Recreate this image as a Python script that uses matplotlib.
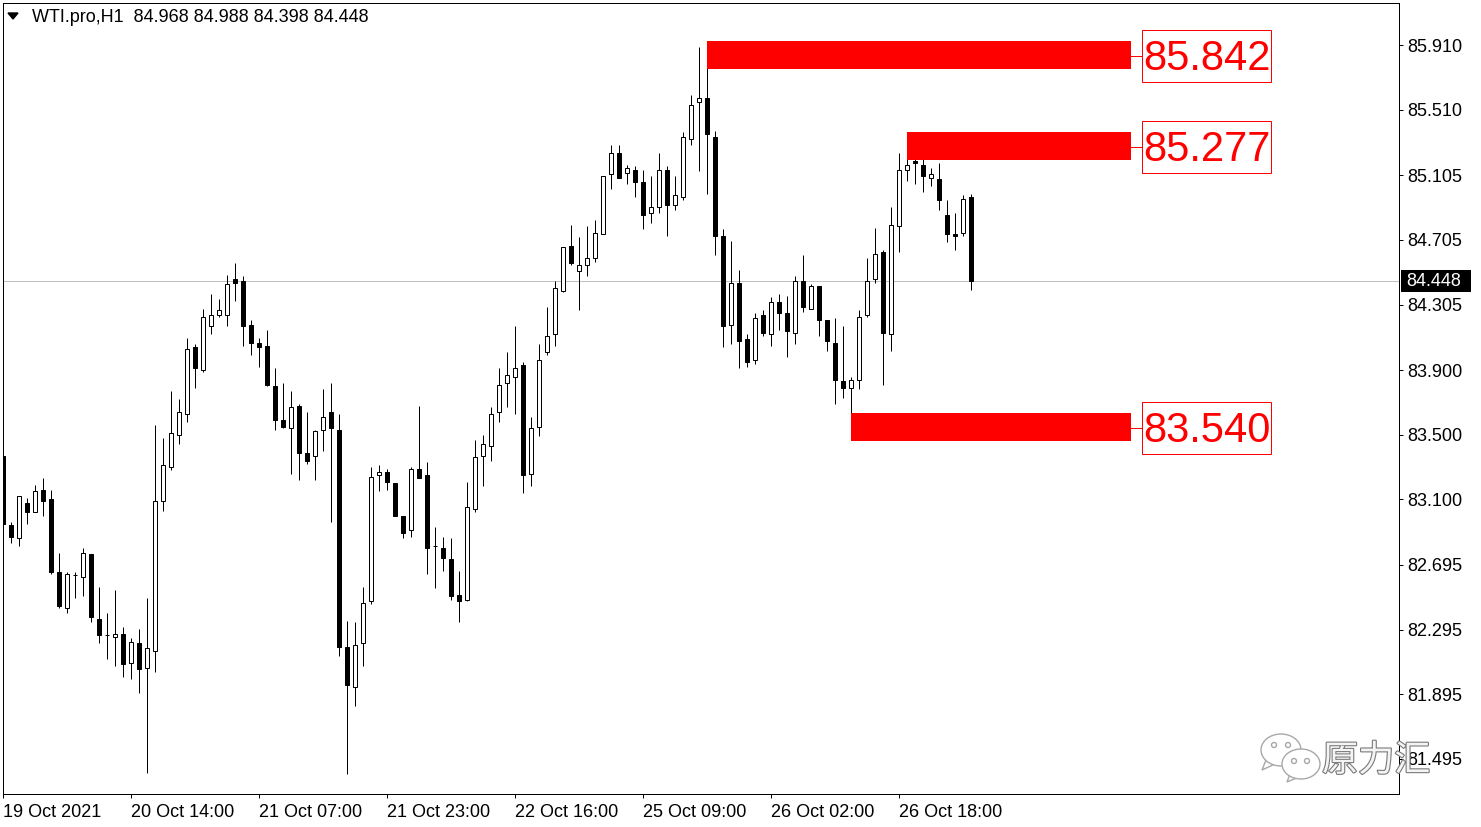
import matplotlib
matplotlib.use('Agg')
import matplotlib.pyplot as plt
from matplotlib.patches import Rectangle, Ellipse, Circle, Polygon
import matplotlib.patheffects as pe

plt.rcParams['font.family'] = ['Liberation Sans', 'DejaVu Sans']

# WTI.pro H1 candles
opens = [83.37, 82.94, 82.86, 83.08, 83.02, 83.16, 83.10, 82.65, 82.43, 82.63,
         82.62, 82.76, 82.36, 82.26, 82.25, 82.27, 82.09, 82.21, 82.06, 82.16,
         83.09, 83.30, 83.50, 83.63, 84.04, 83.90, 84.17, 84.24, 84.24, 84.46,
         84.45, 84.18, 84.07, 84.05, 83.80, 83.59, 83.54, 83.68, 83.39, 83.37,
         83.53, 83.64, 83.53, 82.19, 81.94, 82.21, 82.47, 83.25, 83.27, 83.20,
         83.00, 82.91, 83.29, 83.25, 82.81, 82.80, 82.73, 82.51, 82.48, 83.04,
         83.37, 83.43, 83.64, 83.82, 83.86, 83.93, 83.26, 83.55, 84.01, 84.12,
         84.39, 84.67, 84.51, 84.55, 84.59, 84.74, 85.11, 85.24, 85.12, 85.14,
         85.06, 84.87, 84.91, 85.14, 84.92, 84.97, 85.33, 85.56, 85.58, 85.34,
         84.73, 84.18, 84.44, 84.09, 83.96, 84.24, 84.12, 84.32, 84.25, 84.13,
         84.45, 84.28, 84.42, 84.21, 84.07, 83.83, 83.79, 83.84, 84.24, 84.46,
         84.63, 84.12, 84.79, 85.14, 85.19, 85.17, 85.09, 85.08, 84.86, 84.74,
         84.75, 84.968]
highs = [83.39, 82.96, 83.12, 83.11, 83.19, 83.23, 83.16, 82.77, 82.65, 82.65,
         82.80, 82.76, 82.56, 82.40, 82.54, 82.31, 82.24, 82.30, 82.49, 83.56,
         83.48, 83.77, 83.72, 84.10, 84.06, 84.28, 84.37, 84.34, 84.49, 84.56,
         84.48, 84.21, 84.10, 84.15, 83.91, 83.82, 83.77, 83.69, 83.64, 83.53,
         83.78, 83.82, 83.63, 82.35, 82.34, 82.56, 83.30, 83.31, 83.29, 83.20,
         83.00, 83.30, 83.68, 83.33, 82.93, 82.87, 82.86, 82.66, 83.21, 83.47,
         83.50, 83.67, 83.91, 84.01, 84.17, 83.95, 83.61, 84.06, 84.29, 84.45,
         84.66, 84.80, 84.72, 84.79, 84.83, 85.10, 85.29, 85.29, 85.17, 85.16,
         85.14, 85.10, 85.24, 85.16, 85.10, 85.37, 85.60, 85.90, 85.93, 85.38,
         84.77, 84.70, 84.52, 84.12, 84.25, 84.27, 84.35, 84.37, 84.36, 84.48,
         84.61, 84.43, 84.42, 84.21, 84.22, 84.17, 83.86, 84.27, 84.59, 84.78,
         84.64, 84.91, 85.24, 85.24, 85.36, 85.26, 85.15, 85.18, 84.95, 84.87,
         84.98, 84.988]
lows = [82.85, 82.83, 82.81, 82.95, 83.02, 83.00, 82.64, 82.43, 82.40, 82.49,
        82.50, 82.34, 82.21, 82.11, 82.07, 82.00, 81.99, 81.90, 81.41, 82.03,
        83.03, 83.28, 83.44, 83.58, 83.79, 83.89, 84.12, 84.23, 84.17, 84.33,
        84.05, 83.99, 83.92, 83.80, 83.53, 83.54, 83.26, 83.22, 83.32, 83.22,
        83.40, 82.96, 82.13, 81.40, 81.82, 82.07, 82.45, 83.15, 83.16, 83.00,
        82.86, 82.87, 83.23, 82.64, 82.55, 82.66, 82.48, 82.34, 82.47, 83.02,
        83.18, 83.34, 83.58, 83.67, 83.63, 83.14, 83.18, 83.49, 83.99, 84.05,
        84.38, 84.55, 84.27, 84.48, 84.57, 84.74, 85.02, 85.09, 85.05, 84.97,
        84.77, 84.81, 84.87, 84.73, 84.89, 84.95, 85.29, 85.13, 84.99, 84.61,
        84.04, 84.06, 83.91, 83.92, 83.94, 84.11, 84.05, 84.15, 83.98, 84.06,
        84.26, 84.28, 84.11, 84.02, 83.69, 83.73, 83.63, 83.78, 84.23, 84.44,
        83.81, 84.02, 84.63, 85.07, 85.05, 85.00, 85.04, 84.89, 84.69, 84.64,
        84.73, 84.398]
closes = [82.95, 82.87, 83.12, 83.02, 83.15, 83.09, 82.65, 82.44, 82.64, 82.63,
          82.77, 82.37, 82.26, 82.26, 82.27, 82.08, 82.22, 82.05, 82.18, 83.09,
          83.31, 83.51, 83.64, 84.03, 83.91, 84.23, 84.24, 84.27, 84.43, 84.44,
          84.17, 84.07, 84.04, 83.81, 83.59, 83.55, 83.67, 83.39, 83.34, 83.52,
          83.61, 83.54, 82.19, 81.95, 82.20, 82.46, 83.24, 83.27, 83.21, 83.00,
          82.89, 83.29, 83.23, 82.80, 82.81, 82.74, 82.50, 82.47, 83.05, 83.36,
          83.44, 83.63, 83.81, 83.87, 83.91, 83.25, 83.54, 83.96, 84.11, 84.41,
          84.66, 84.56, 84.55, 84.59, 84.75, 85.10, 85.24, 85.09, 85.15, 85.06,
          84.86, 84.91, 85.14, 84.92, 84.98, 85.34, 85.54, 85.58, 85.36, 84.73,
          84.17, 84.44, 84.08, 83.95, 84.22, 84.13, 84.32, 84.25, 84.14, 84.45,
          84.29, 84.42, 84.21, 84.08, 83.84, 83.79, 83.84, 84.23, 84.45, 84.62,
          84.13, 84.80, 85.14, 85.17, 85.18, 85.10, 85.11, 84.95, 84.74, 84.73,
          84.96, 84.448]

time_labels = ['19 Oct 2021', '20 Oct 14:00', '21 Oct 07:00', '21 Oct 23:00',
               '22 Oct 16:00', '25 Oct 09:00', '26 Oct 02:00', '26 Oct 18:00']
time_label_bars = [0, 16, 32, 48, 64, 80, 96, 112]
price_ticks = [85.910, 85.510, 85.105, 84.705, 84.305, 83.900,
               83.500, 83.100, 82.695, 82.295, 81.895, 81.495]

levels = [85.842, 85.277, 83.540]
level_start_bars = [88, 113, 106]
level_end_bar = 141

LW = 0.72
fig = plt.figure(figsize=(14.81, 8.27), dpi=100)
ax = fig.add_axes([3 / 1481, 33 / 827, 1396 / 1481, 791 / 827])
ax.set_xlim(-0.04, 174.46)
ax.set_ylim(81.278, 86.170)

# current price line
last_close = closes[-1]
ax.axhline(last_close, color='#c0c0c0', lw=LW, zorder=0.5)

# candles
x = list(range(len(opens)))
ax.vlines(x, lows, highs, color='black', lw=LW, zorder=2)
for i in x:
    o, c = opens[i], closes[i]
    face = 'white' if c >= o else 'black'
    ax.add_patch(Rectangle((i - 0.25, min(o, c)), 0.5, abs(c - o),
                           facecolor=face, edgecolor='black', lw=LW, zorder=3))

# red level boxes with labels
for lvl, start in zip(levels, level_start_bars):
    ax.add_patch(Rectangle((start, lvl - 0.078), level_end_bar - start, 0.172,
                           facecolor='#ff0000', edgecolor='none', zorder=4))
    ax.plot([level_end_bar, 142.34], [lvl, lvl], color='#ff0000', lw=LW, zorder=4)
    ax.add_patch(Rectangle((142.34, lvl - 0.158), 16.12, 0.32, facecolor='white',
                           edgecolor='#ff0000', lw=LW, zorder=4))
    ax.text(150.4, lvl - 0.018, f'{lvl:.3f}', color='#ff0000', fontsize=30,
            ha='center', va='center', zorder=5)

# axes styling
for s in ax.spines.values():
    s.set_color('black')
    s.set_linewidth(LW)
ax.yaxis.tick_right()
ax.set_yticks(price_ticks)
ax.set_yticklabels([f'{p:.3f}' for p in price_ticks])
ax.set_xticks(time_label_bars)
ax.set_xticklabels(time_labels)
for lbl in ax.get_xticklabels():
    lbl.set_horizontalalignment('left')
ax.tick_params(axis='y', direction='out', length=3, width=LW, pad=3, labelsize=13)
ax.tick_params(axis='x', direction='out', length=3, width=LW, pad=4, labelsize=13)

# last price tag on the price scale
ytr = ax.get_yaxis_transform()
ax.add_patch(Rectangle((1.0014, last_close - 0.068), 0.0502, 0.136, transform=ytr,
                       facecolor='black', edgecolor='none', clip_on=False, zorder=6))
ax.text(1.0050, last_close, f'{last_close:.3f}', transform=ytr, color='white',
        fontsize=13, ha='left', va='center', clip_on=False, zorder=7)

# overlay in pixel space: header and watermark
ov = fig.add_axes([0, 0, 1, 1], zorder=5)
ov.set_xlim(0, 1481)
ov.set_ylim(827, 0)
ov.axis('off')
ov.patch.set_alpha(0)

ov.add_patch(Polygon([(8, 13), (18, 13), (13, 19)], closed=True, color='black'))
header = (f'WTI.pro,H1  {opens[-1]:.3f} {highs[-1]:.3f} '
          f'{lows[-1]:.3f} {closes[-1]:.3f}')
ov.text(32, 17.5, header, fontsize=13, ha='left', va='center', color='black')

gray = '#a8a8a8'
ov.add_patch(Polygon([(1266, 760), (1262, 770), (1275, 764)], closed=True,
                     facecolor='white', edgecolor=gray, lw=1))
ov.add_patch(Ellipse((1281, 750), 40, 32, facecolor='white', edgecolor=gray, lw=1))
for ex in (1274, 1288):
    ov.add_patch(Circle((ex, 745), 2.5, facecolor='white', edgecolor=gray, lw=1))
ov.add_patch(Polygon([(1290, 774), (1287, 782), (1299, 777)], closed=True,
                     facecolor='white', edgecolor=gray, lw=1))
ov.add_patch(Ellipse((1301, 764), 38, 30, facecolor='white', edgecolor=gray, lw=1))
for ex in (1294, 1307):
    ov.add_patch(Circle((ex, 761), 2.5, facecolor='white', edgecolor=gray, lw=1))
ov.text(1322, 761, '原力汇', fontsize=26, color='#f4f4f4', ha='left', va='center',
        family=['Noto Sans CJK SC', 'DejaVu Sans'],
        path_effects=[pe.withStroke(linewidth=1.6, foreground='#7a7a7a')])

fig.savefig('out.png', dpi=100, facecolor='white')
